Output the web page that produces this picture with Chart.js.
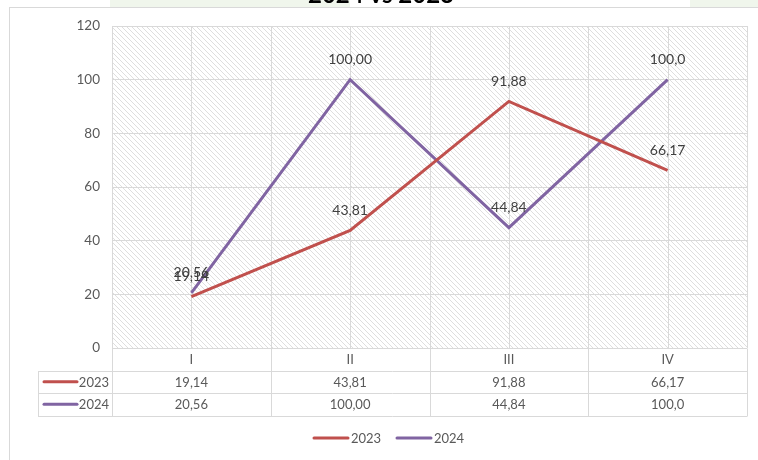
<!DOCTYPE html>
<html>
<head>
<meta charset="utf-8">
<script src="https://cdn.jsdelivr.net/npm/chart.js@4"></script>
<style>
  body { margin: 0; background: #fff; }
  #wrap { width: 758px; height: 460px; }
</style>
</head>
<body>
<div id="wrap"><canvas id="grafico" width="758" height="460"></canvas></div>
<script>
// Datos del gráfico
const trimestres = ['I', 'II', 'III', 'IV'];
const valores2023 = [19.14, 43.81, 91.88, 66.17];
const valores2024 = [20.56, 100.00, 44.84, 100.0];
const etiquetas2023 = ['19,14', '43,81', '91,88', '66,17'];
const etiquetas2024 = ['20,56', '100,00', '44,84', '100,0'];
const series = ['2023', '2024'];
const titulo = '2024 vs 2023';

const fuente = 'Lato, "Liberation Sans", sans-serif';
const gris = '#595959';
const lineaGris = '#D9D9D9';

// Patrón rayado del fondo
function crearRayado(ctx) {
    const c = document.createElement('canvas');
    c.width = 5; c.height = 5;
    const p = c.getContext('2d');
    p.strokeStyle = '#DEDEDE';
    p.lineWidth = 1;
    p.beginPath();
    p.moveTo(-1, -1); p.lineTo(6, 6);
    p.moveTo(-1, 4); p.lineTo(1, 6);
    p.moveTo(4, -1); p.lineTo(6, 1);
    p.stroke();
    return ctx.createPattern(c, 'repeat');
}

const fondoPlugin = {
    id: 'fondo',
    beforeDraw(chart) {
        const ctx = chart.ctx;
        const a = chart.chartArea;
        ctx.save();
        ctx.fillStyle = '#fff';
        ctx.fillRect(0, 0, chart.width, chart.height);
        // franja superior verde
        ctx.fillStyle = '#F0F6EC';
        ctx.fillRect(110, 0, 240, 7);
        ctx.fillRect(690, 0, 68, 7);
        // título (cortado)
        ctx.fillStyle = '#000';
        ctx.font = 'bold 24px ' + fuente;
        ctx.textAlign = 'center';
        ctx.textBaseline = 'alphabetic';
        ctx.fillText(titulo, 381, 3);
        // marco
        ctx.fillStyle = '#fff';
        ctx.fillRect(9, 7, 760, 460);
        ctx.strokeStyle = lineaGris;
        ctx.lineWidth = 1;
        ctx.strokeRect(9.5, 7.5, 800, 500);
        // rayado
        ctx.fillStyle = crearRayado(ctx);
        ctx.fillRect(a.left, a.top, a.right - a.left, a.bottom - a.top);
        ctx.restore();
    },
    beforeDatasetsDraw(chart) {
        const ctx = chart.ctx;
        const a = chart.chartArea;
        const x = chart.scales.x;
        ctx.save();
        ctx.strokeStyle = lineaGris;
        ctx.lineWidth = 1;
        ctx.beginPath();
        for (let i = -0.5; i <= trimestres.length - 0.5; i += 0.5) {
            const px = Math.round(x.getPixelForValue(i)) + 0.5;
            ctx.moveTo(px, a.top);
            ctx.lineTo(px, a.bottom);
        }
        ctx.stroke();
        ctx.restore();
    }
};

// Etiquetas de datos
const etiquetasPlugin = {
    id: 'etiquetas',
    afterDatasetsDraw(chart) {
        const ctx = chart.ctx;
        const textos = [etiquetas2023, etiquetas2024];
        ctx.save();
        ctx.font = '14px ' + fuente;
        ctx.fillStyle = '#404040';
        ctx.textAlign = 'center';
        ctx.textBaseline = 'middle';
        chart.data.datasets.forEach((ds, d) => {
            const meta = chart.getDatasetMeta(d);
            meta.data.forEach((pt, i) => {
                ctx.fillText(textos[d][i], pt.x, pt.y - 20);
            });
        });
        ctx.restore();
    }
};

// Tabla de datos y leyenda
const tablaPlugin = {
    id: 'tabla',
    afterDraw(chart) {
        const ctx = chart.ctx;
        const a = chart.chartArea;
        const x = chart.scales.x;
        const filaAlto = 22.5;
        const izq = 38;
        const y0 = a.bottom;
        const y1 = y0 + filaAlto;
        const y2 = y1 + filaAlto;
        const y3 = y2 + filaAlto;
        const r = v => Math.round(v) + 0.5;
        ctx.save();
        ctx.strokeStyle = lineaGris;
        ctx.lineWidth = 1;
        ctx.beginPath();
        ctx.moveTo(a.left, r(y0)); ctx.lineTo(a.right, r(y0));
        [y1, y2, y3].forEach(y => { ctx.moveTo(izq, r(y)); ctx.lineTo(a.right, r(y)); });
        ctx.moveTo(r(izq), r(y1)); ctx.lineTo(r(izq), r(y3));
        for (let i = -0.5; i <= trimestres.length - 0.5; i += 1) {
            const px = r(x.getPixelForValue(i));
            ctx.moveTo(px, r(y0)); ctx.lineTo(px, r(y3));
        }
        ctx.stroke();

        ctx.font = '13px ' + fuente;
        ctx.fillStyle = gris;
        ctx.textAlign = 'center';
        ctx.textBaseline = 'middle';
        const textos = [etiquetas2023, etiquetas2024];
        trimestres.forEach((t, i) => {
            const px = x.getPixelForValue(i);
            ctx.fillText(t, px, y0 + filaAlto / 2 + 1);
            ctx.fillText(textos[0][i], px, y1 + filaAlto / 2 + 1);
            ctx.fillText(textos[1][i], px, y2 + filaAlto / 2 + 1);
        });

        // claves de la tabla
        chart.data.datasets.forEach((ds, d) => {
            const yc = (d === 0 ? y1 : y2) + filaAlto / 2;
            ctx.strokeStyle = ds.borderColor;
            ctx.lineWidth = 3;
            ctx.lineCap = 'round';
            ctx.beginPath();
            ctx.moveTo(44, yc); ctx.lineTo(77, yc);
            ctx.stroke();
            ctx.textAlign = 'right';
            ctx.fillStyle = gris;
            ctx.fillText(ds.label, 109, yc + 1);
        });

        // leyenda inferior
        const leyX = [314, 397];
        const leyY = 438;
        chart.data.datasets.forEach((ds, d) => {
            ctx.strokeStyle = ds.borderColor;
            ctx.lineWidth = 3;
            ctx.lineCap = 'round';
            ctx.beginPath();
            ctx.moveTo(leyX[d], leyY); ctx.lineTo(leyX[d] + 34, leyY);
            ctx.stroke();
            ctx.textAlign = 'left';
            ctx.fillStyle = gris;
            ctx.fillText(ds.label, leyX[d] + 37, leyY + 1);
        });
        ctx.restore();
    }
};

const ctx = document.getElementById('grafico').getContext('2d');
const grafico = new Chart(ctx, {
    type: 'line',
    data: {
        labels: trimestres,
        datasets: [{
            label: series[0],
            data: valores2023,
            borderColor: '#C0504D',
            borderWidth: 3,
            pointRadius: 0,
            tension: 0,
            fill: false
        }, {
            label: series[1],
            data: valores2024,
            borderColor: '#8064A2',
            borderWidth: 3,
            pointRadius: 0,
            tension: 0,
            fill: false
        }]
    },
    options: {
        responsive: false,
        animation: false,
        layout: { padding: { top: 26, right: 11, left: 0, bottom: 112 } },
        plugins: {
            legend: { display: false },
            tooltip: { enabled: false }
        },
        scales: {
            x: {
                display: false,
                offset: true
            },
            y: {
                min: 0,
                max: 120,
                ticks: {
                    stepSize: 20,
                    padding: 12,
                    color: gris,
                    font: { family: fuente, size: 13.5 }
                },
                grid: { color: lineaGris, drawTicks: false },
                border: { display: false },
                afterFit(scale) { scale.width = 112; }
            }
        }
    },
    plugins: [fondoPlugin, etiquetasPlugin, tablaPlugin]
});
</script>
</body>
</html>
